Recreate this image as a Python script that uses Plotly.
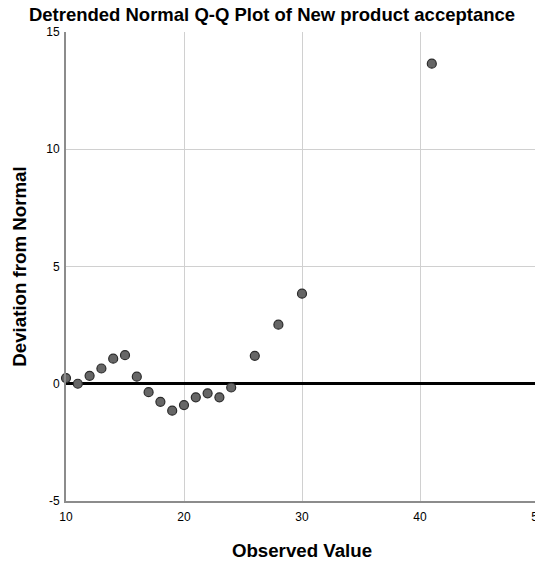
import plotly.graph_objects as go

observed = [10, 11, 12, 13, 14, 15, 16, 17, 18, 19, 20, 21, 22, 23, 24, 26, 28, 30, 41]
deviation = [0.24, 0.0, 0.34, 0.65, 1.07, 1.22, 0.30, -0.36, -0.77, -1.15, -0.91, -0.58, -0.41,
             -0.58, -0.16, 1.19, 2.52, 3.84, 13.65]

x_ticks = [10, 20, 30, 40, 50]
y_ticks = [-5, 0, 5, 10, 15]

FONT = "Liberation Sans, Arial, sans-serif"

# page body keeps its default 8px margin, so the figure is sized to fit inside the window
W, H = 535, 553

fig = go.Figure()
fig.add_trace(go.Scatter(
    x=observed, y=deviation, mode="markers",
    marker=dict(size=9, color="#666666", line=dict(color="#2b2b2b", width=1.2)),
    showlegend=False, cliponaxis=False,
))

fig.update_layout(
    width=W, height=H,
    margin=dict(l=58, r=5, t=24, b=60, autoexpand=False),
    paper_bgcolor="white", plot_bgcolor="white",
    font=dict(family=FONT, color="black", size=12),
    title=dict(text="<b>Detrended Normal Q-Q Plot of New product acceptance</b>",
               x=264 / W, xanchor="center", y=1 - 7 / H, yanchor="middle",
               xref="container", yref="container",
               font=dict(family=FONT, size=18.5, color="black")),
)
fig.update_xaxes(
    range=[10, 50], tickvals=x_ticks, ticktext=[str(v) for v in x_ticks],
    showgrid=True, gridcolor="#d0d0d0", gridwidth=1,
    showline=True, linecolor="#8c8c8c", linewidth=2,
    zeroline=False, ticks="", tickfont=dict(size=12, color="black"),
    ticklabelstandoff=4, ticklabeloverflow="allow",
    automargin=False,
    title=dict(text="<b>Observed Value</b>", font=dict(size=18.7, family=FONT), standoff=21),
)
fig.update_yaxes(
    range=[-5, 15], tickvals=y_ticks, ticktext=[str(v) for v in y_ticks],
    showgrid=True, gridcolor="#d0d0d0", gridwidth=1,
    showline=True, linecolor="#8c8c8c", linewidth=2,
    zeroline=True, zerolinecolor="black", zerolinewidth=3,
    ticks="", tickfont=dict(size=12, color="black"),
    ticklabelstandoff=2,
    automargin=False,
    title=dict(text="<b>Deviation from Normal</b>", font=dict(size=18.7, family=FONT), standoff=15),
)

fig.write_html("out.html")
